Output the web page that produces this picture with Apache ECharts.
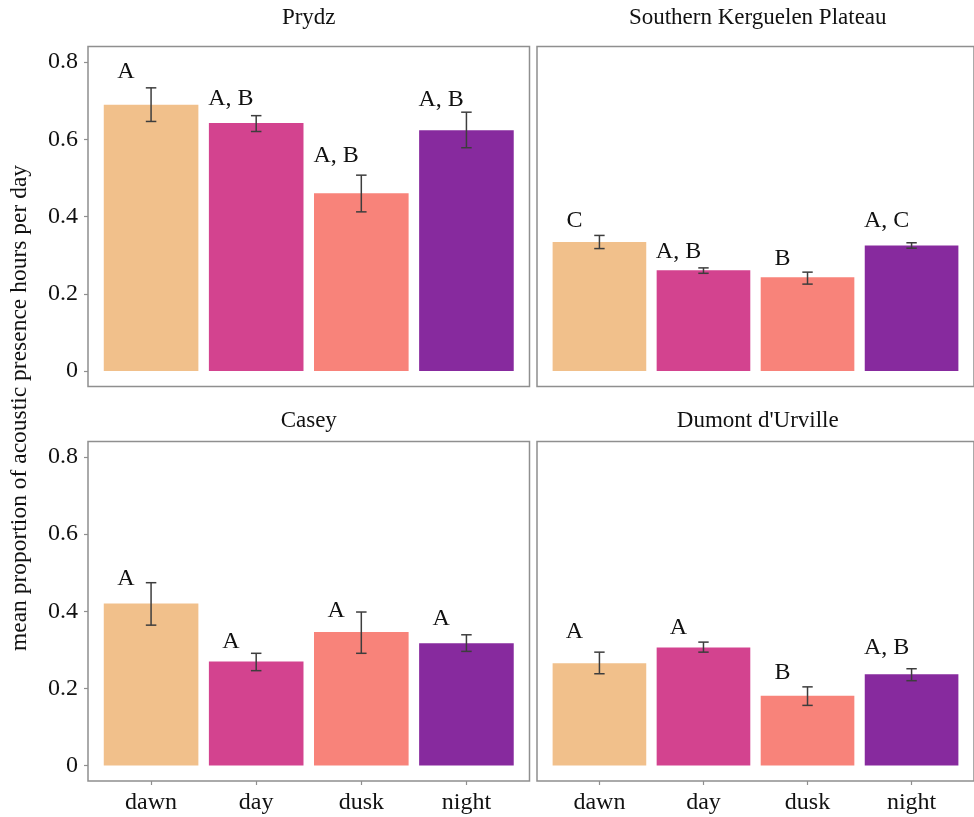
<!DOCTYPE html>
<html>
<head>
<meta charset="utf-8">
<script src="https://cdn.jsdelivr.net/npm/echarts@6/dist/echarts.min.js"></script>
<style>
  html, body { margin: 0; padding: 0; background: #fff; }
  #chart { width: 974px; height: 817px; }
</style>
</head>
<body>
<div id="chart"></div>
<script>
const periods = ['dawn', 'day', 'dusk', 'night'];
const sites = ['Prydz', 'Southern Kerguelen Plateau', 'Casey', "Dumont d'Urville"];
const yTicks = [0, 0.2, 0.4, 0.6, 0.8];

// mean, lower / upper error bar, significance letters and their height
const prydzMean = [0.689, 0.642, 0.460, 0.623];
const prydzLow = [0.646, 0.620, 0.412, 0.578];
const prydzHigh = [0.733, 0.661, 0.507, 0.670];
const prydzLetters = ['A', 'A, B', 'A, B', 'A, B'];
const prydzLetterY = [0.775, 0.705, 0.558, 0.702];

const kergMean = [0.334, 0.261, 0.243, 0.325];
const kergLow = [0.317, 0.253, 0.225, 0.318];
const kergHigh = [0.351, 0.267, 0.256, 0.332];
const kergLetters = ['C', 'A, B', 'B', 'A, C'];
const kergLetterY = [0.388, 0.309, 0.292, 0.388];

const caseyMean = [0.420, 0.270, 0.346, 0.317];
const caseyLow = [0.364, 0.246, 0.291, 0.296];
const caseyHigh = [0.474, 0.291, 0.398, 0.339];
const caseyLetters = ['A', 'A', 'A', 'A'];
const caseyLetterY = [0.485, 0.321, 0.402, 0.381];

const dduMean = [0.265, 0.306, 0.181, 0.237];
const dduLow = [0.238, 0.294, 0.156, 0.220];
const dduHigh = [0.294, 0.320, 0.204, 0.251];
const dduLetters = ['A', 'A', 'B', 'A, B'];
const dduLetterY = [0.347, 0.358, 0.240, 0.305];

const barColors = ['#F1C08B', '#D3438F', '#F8837A', '#872A9E'];
const font = 'Liberation Serif, Times New Roman, serif';

const panels = [
  { mean: prydzMean, low: prydzLow, high: prydzHigh, letters: prydzLetters, letterY: prydzLetterY },
  { mean: kergMean, low: kergLow, high: kergHigh, letters: kergLetters, letterY: kergLetterY },
  { mean: caseyMean, low: caseyLow, high: caseyHigh, letters: caseyLetters, letterY: caseyLetterY },
  { mean: dduMean, low: dduLow, high: dduHigh, letters: dduLetters, letterY: dduLetterY }
];

const panelW = 441.5;
const lefts = [88, 537, 88, 537];
const tops = [46.5, 46.5, 441.5, 441.5];
const heights = [340, 340, 339.5, 339.5];

const grids = panels.map((p, k) => ({
  left: lefts[k], top: tops[k], width: panelW, height: heights[k],
  show: true, borderColor: '#8f8f8f', borderWidth: 1.5, backgroundColor: '#fff'
}));

const xAxes = panels.map((p, k) => ({
  type: 'value', gridIndex: k, min: -0.6, max: 3.6, position: 'bottom',
  splitLine: { show: false },
  axisLine: { show: false, onZero: false },
  axisTick: { show: k >= 2, customValues: [0, 1, 2, 3], length: 4, lineStyle: { color: '#8f8f8f', width: 1.2 } },
  axisLabel: {
    show: k >= 2, customValues: [0, 1, 2, 3], margin: 10,
    formatter: v => periods[Math.round(v)],
    fontFamily: font, fontSize: 24, color: '#111'
  }
}));

const yAxes = panels.map((p, k) => ({
  type: 'value', gridIndex: k, min: -0.04, max: 0.84, position: 'left',
  splitLine: { show: false },
  axisLine: { show: false, onZero: false },
  axisTick: { show: k % 2 === 0, customValues: yTicks, length: 4, lineStyle: { color: '#8f8f8f', width: 1.2 } },
  axisLabel: {
    show: k % 2 === 0, customValues: yTicks, margin: 10,
    formatter: v => (v === 0 ? '0' : v.toFixed(1)),
    fontFamily: font, fontSize: 24, color: '#111'
  }
}));

function makeSeries(p, k) {
  const data = periods.map((name, i) => [i, p.mean[i], p.low[i], p.high[i], p.letterY[i]]);
  return {
    type: 'custom', xAxisIndex: k, yAxisIndex: k, data: data,
    renderItem: function (params, api) {
      const i = api.value(0);
      const tl = api.coord([i - 0.45, api.value(1)]);
      const br = api.coord([i + 0.45, 0]);
      const top = api.coord([i, api.value(3)]);
      const bot = api.coord([i, api.value(2)]);
      const capL = api.coord([i - 0.05, 0])[0];
      const capR = api.coord([i + 0.05, 0])[0];
      const lab = api.coord([i - 0.24, api.value(4)]);
      const errStyle = { stroke: '#3d3d3d', lineWidth: 1.5 };
      return {
        type: 'group',
        children: [
          { type: 'rect', shape: { x: tl[0], y: tl[1], width: br[0] - tl[0], height: br[1] - tl[1] },
            style: { fill: barColors[i] } },
          { type: 'line', shape: { x1: top[0], y1: top[1], x2: bot[0], y2: bot[1] }, style: errStyle },
          { type: 'line', shape: { x1: capL, y1: top[1], x2: capR, y2: top[1] }, style: errStyle },
          { type: 'line', shape: { x1: capL, y1: bot[1], x2: capR, y2: bot[1] }, style: errStyle },
          { type: 'text', x: lab[0], y: lab[1],
            style: { text: p.letters[params.dataIndex], fill: '#111', font: '24px ' + font,
                     align: 'center', verticalAlign: 'middle' } }
        ]
      };
    }
  };
}

const titleY = [17.5, 17.5, 421, 421];
const titles = sites.map((s, k) => ({
  type: 'text', x: lefts[k] + panelW / 2, y: titleY[k],
  style: { text: s, fill: '#111', font: '23px ' + font, align: 'center', verticalAlign: 'middle' }
}));

const chart = echarts.init(document.getElementById('chart'), null, { renderer: 'canvas' });
chart.setOption({
  animation: false,
  backgroundColor: '#fff',
  grid: grids,
  xAxis: xAxes,
  yAxis: yAxes,
  series: panels.map(makeSeries),
  graphic: titles.concat([{
    type: 'text', x: 20, y: 408, rotation: Math.PI / 2,
    style: { text: 'mean proportion of acoustic presence hours per day', fill: '#111',
             font: '23.5px ' + font, align: 'center', verticalAlign: 'middle' }
  }])
});
</script>
</body>
</html>
